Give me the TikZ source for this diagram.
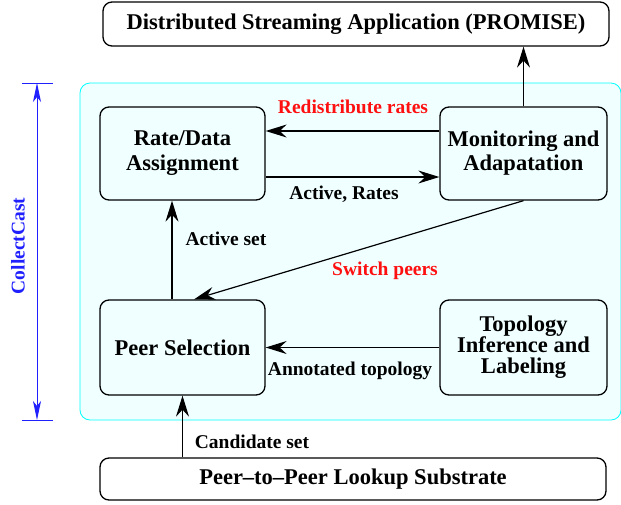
\documentclass[tikz,border=0pt]{standalone}
\usepackage{fontspec}
\setmainfont{Liberation Serif}
\usetikzlibrary{arrows.meta,calc}
\definecolor{panelfill}{HTML}{F0FFFF}
\definecolor{panelline}{HTML}{00FFFF}
\definecolor{dimblue}{HTML}{2020FF}
\definecolor{lblred}{HTML}{FF1010}
\tikzset{
  blk/.style={draw=black, line width=1.3pt, rounded corners=9pt, fill=panelfill, align=center,
    font=\fontsize{22.5}{24}\selectfont\bfseries, inner sep=0pt},
  outer/.style={draw=black, line width=1.3pt, rounded corners=9pt, fill=white, align=center,
    font=\fontsize{22.5}{24}\selectfont\bfseries, inner sep=0pt},
  arr/.style={line width=1.2pt, -{Stealth[length=21pt,width=13pt,inset=7pt]}},
  lbl/.style={font=\fontsize{19.5}{21}\selectfont\bfseries, inner sep=0pt},
  redlbl/.style={lbl, text=lblred},
}
\begin{document}
\begin{tikzpicture}[x=1pt,y=-1pt]
\useasboundingbox (0,0) rectangle (621,504);
% panel
\draw[panelline, fill=panelfill, line width=0.8pt, rounded corners=10pt] (80,83) rectangle (621,420);
% boxes
\node[outer, minimum width=506pt, minimum height=44pt] (app) at (356,24) {Distributed Streaming Application (PROMISE)};
\node[outer, minimum width=506pt, minimum height=42pt] (lookup) at (353,479) {Peer--to--Peer Lookup Substrate};
\node[blk, minimum width=165pt, minimum height=93pt] (rd) at (182.5,153.5) {Rate/Data\\[1pt]Assignment};
\node[blk, minimum width=167pt, minimum height=93pt] (mon) at (523.5,153.5) {Monitoring and\\[0pt]Adapatation};
\node[blk, minimum width=165pt, minimum height=95pt] (ps) at (182.5,347.5) {Peer Selection};
\node[blk, minimum width=167pt, minimum height=95pt, font=\fontsize{22.5}{21}\selectfont\bfseries] (topo) at (523.5,347.5) {Topology\\Inference and\\Labeling};
% helper coordinates
\coordinate (yr) at (0,131);
\coordinate (ya) at (0,177);
\coordinate (xa) at (172,0);
\coordinate (xs) at (194,0);
% connectors
\draw[arr] (mon.north) -- (app.south -| mon.north);
\draw[arr] (mon.west |- yr) -- (rd.east |- yr);
\draw[arr] (rd.east |- ya) -- (mon.west |- ya);
\draw[arr] (ps.north -| xa) -- (rd.south -| xa);
\draw[arr] (mon.south) -- (ps.north -| xs);
\draw[arr] (topo.west) -- (ps.east);
\draw[arr] (lookup.north -| ps.south) -- (ps.south);
% labels
\node[redlbl] (l1) at (353,107) {Redistribute rates};
\node[lbl] (l2) at (344,194) {Active, Rates};
\node[lbl] (l3) at (226,239) {Active set};
\node[redlbl] (l4) at (385,271) {Switch peers};
\node[lbl] (l5) at (350,371) {Annotated topology};
\node[lbl] (l6) at (252,442) {Candidate set};
% CollectCast dimension
\coordinate (dt) at (37,83);
\coordinate (db) at (37,420);
\draw[dimblue, line width=0.9pt] (22,83) -- (53,83);
\draw[dimblue, line width=0.9pt] (22,420) -- (53,420);
\draw[dimblue, line width=0.9pt, {Stealth[length=19pt,width=8pt,inset=5pt]}-{Stealth[length=19pt,width=8pt,inset=5pt]}] (dt) -- (db);
\node[lbl, text=dimblue, rotate=90] (cc) at (18,246) {CollectCast};
\end{tikzpicture}
\end{document}
